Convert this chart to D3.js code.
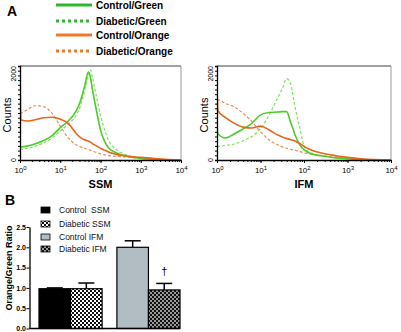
<!DOCTYPE html>
<html>
<head>
<meta charset="utf-8">
<script src="https://cdn.jsdelivr.net/npm/d3@7"></script>
<style>
  body { margin: 0; background: #fff; }
  svg { font-family: "Liberation Sans", Arial, sans-serif; display: block; }
</style>
</head>
<body>
<div id="chart"></div>
<script>
// fluorescence channel (log axis), shared by every histogram
const fluor = [1, 1.05, 1.58, 2.51, 3.98, 6.31, 10, 15.8, 25.1, 31.6, 39.8, 50.1, 56.2, 63.1, 79.4, 100, 126, 158, 251, 398, 631, 1000, 2000, 3980, 10000];

// counts - SSM panel
const ssmCtrlGreen = [290, 280, 300, 350, 420, 520, 690, 830, 1050, 1250, 1550, 1870, 1760, 1500, 1050, 640, 400, 260, 150, 90, 60, 35, 15, 5, 0];
const ssmDiabGreen = [240, 230, 250, 300, 370, 470, 620, 760, 960, 1150, 1450, 1800, 1920, 1750, 1350, 950, 650, 420, 220, 120, 70, 40, 15, 5, 0];
const ssmCtrlOrange = [2100, 850, 830, 860, 900, 910, 870, 780, 560, 480, 430, 400, 380, 350, 300, 250, 210, 170, 120, 90, 70, 55, 35, 15, 0];
const ssmDiabOrange = [1000, 1000, 1080, 1160, 1130, 990, 720, 470, 320, 280, 250, 220, 210, 195, 160, 130, 110, 95, 80, 65, 50, 30, 15, 5, 0];

// counts - IFM panel
const ifmCtrlGreen = [700, 560, 470, 560, 660, 780, 960, 1010, 1020, 1030, 1030, 780, 660, 520, 330, 220, 160, 120, 90, 60, 40, 25, 10, 3, 0];
const ifmDiabGreen = [290, 290, 310, 340, 410, 500, 670, 960, 1330, 1520, 1730, 1600, 1350, 1100, 700, 300, 180, 140, 100, 65, 45, 30, 10, 3, 0];
const ifmCtrlOrange = [1500, 1050, 900, 780, 700, 680, 720, 640, 530, 490, 460, 430, 420, 400, 350, 290, 240, 200, 150, 110, 80, 55, 25, 8, 0];
const ifmDiabOrange = [1280, 1280, 1200, 1130, 990, 820, 600, 430, 320, 280, 250, 225, 215, 205, 180, 155, 135, 115, 90, 70, 55, 40, 20, 5, 0];

const histLegend = ["Control/Green", "Diabetic/Green", "Control/Orange", "Diabetic/Orange"];
const xMajor = [1, 10, 100, 1000, 10000];
const yTicks = [0, 2000];

// panel B
const barGroups = ["SSM", "IFM"];
const barSeries = ["Control", "Diabetic"];
const barLabels = ["Control  SSM", "Diabetic SSM", "Control IFM", "Diabetic IFM"];
const barMean = [0.98, 0.98, 2.00, 0.95];
const barErr = [0.02, 0.14, 0.16, 0.16];
const ratioTicks = [0, 0.5, 1.0, 1.5, 2.0, 2.5];

const W = 401, H = 332;
const svg = d3.select("#chart").append("svg").attr("width", W).attr("height", H);

// patterns for the diabetic bars
const defs = svg.append("defs");
function checker(id, light) {
  const p = defs.append("pattern").attr("id", id).attr("patternUnits", "userSpaceOnUse")
    .attr("width", 4).attr("height", 4);
  p.append("rect").attr("width", 4).attr("height", 4).attr("fill", light);
  p.append("rect").attr("width", 2).attr("height", 2).attr("fill", "#111");
  p.append("rect").attr("x", 2).attr("y", 2).attr("width", 2).attr("height", 2).attr("fill", "#111");
}
checker("chkWhite", "#fff");
checker("chkGray", "#9a9a9a");

const colGreen = "#4ccd2a", colGreenD = "#7fe05c", colOrange = "#e9651c", colOrangeD = "#f08c52";

// ---------- panel labels ----------
svg.append("text").attr("x", 7).attr("y", 16).attr("font-size", 14).attr("font-weight", "bold").text("A");
svg.append("text").attr("x", 5).attr("y", 205).attr("font-size", 14).attr("font-weight", "bold").text("B");

// ---------- top legend ----------
const legStyle = [
  { c: "#2eb82e", dash: null },
  { c: "#2eb82e", dash: "3,3" },
  { c: "#f07a2a", dash: null },
  { c: "#f07a2a", dash: "3,3" }
];
const legY = [5, 21, 35, 51];
histLegend.forEach((name, i) => {
  svg.append("line").attr("x1", 56).attr("x2", 92).attr("y1", legY[i]).attr("y2", legY[i])
    .attr("stroke", legStyle[i].c).attr("stroke-width", 3)
    .attr("stroke-dasharray", legStyle[i].dash);
  svg.append("text").attr("x", 96).attr("y", legY[i] + 3.5).attr("font-size", 10)
    .attr("font-weight", "bold").text(name);
});

// ---------- histograms ----------
function histogram(x0, x1, title, curves, clipId) {
  const y0 = 66, y1 = 160;
  const x = d3.scaleLog().domain([1, 10000]).range([x0, x1]);
  const y = d3.scaleLinear().domain([0, 2000]).range([y1, y0]);

  defs.append("clipPath").attr("id", clipId).append("rect")
    .attr("x", x0).attr("y", y0).attr("width", x1 - x0).attr("height", y1 - y0);

  // frame top and right
  svg.append("line").attr("x1", x0).attr("x2", x1).attr("y1", y0).attr("y2", y0).attr("stroke", "#444").attr("stroke-width", 1.2);
  svg.append("line").attr("x1", x1).attr("x2", x1).attr("y1", y0).attr("y2", y1).attr("stroke", "#999");

  const line = d3.line().x((d, i) => x(fluor[i])).y(d => y(d)).curve(d3.curveMonotoneX);
  const g = svg.append("g").attr("clip-path", `url(#${clipId})`);
  curves.forEach(c => {
    g.append("path").datum(c.v).attr("d", line).attr("fill", "none")
      .attr("stroke", c.c).attr("stroke-width", c.dash ? 1.2 : 1.6)
      .attr("stroke-dasharray", c.dash);
  });

  // x axis
  const minor = svg.append("g").attr("transform", `translate(0,${y1})`)
    .call(d3.axisBottom(x).tickValues(x.ticks()).tickFormat("").tickSize(2));
  minor.select(".domain").remove();
  const ax = svg.append("g").attr("transform", `translate(0,${y1})`)
    .call(d3.axisBottom(x).tickValues(xMajor).tickSize(3).tickSizeOuter(0));
  ax.select(".domain").attr("stroke-width", 1.3);
  ax.selectAll(".tick text").each(function(d) {
    const t = d3.select(this);
    t.text("10").attr("font-size", 8).attr("y", 7).attr("font-family", "Liberation Sans, Arial");
    t.append("tspan").attr("dy", "-0.45em").attr("font-size", 6).text(Math.round(Math.log10(d)));
  });

  // y axis
  const yMinor = svg.append("g").attr("transform", `translate(${x0},0)`)
    .call(d3.axisLeft(y).tickValues(d3.range(0, 2001, 100)).tickFormat("").tickSize(2));
  yMinor.select(".domain").attr("stroke-width", 1.3);
  yTicks.forEach(v => {
    svg.append("text")
      .attr("transform", `translate(${x0 - 4},${y(v)}) rotate(-90)`)
      .attr("text-anchor", v === 0 ? "middle" : "end")
      .attr("font-size", 7).text(v);
  });

  svg.append("text").attr("transform", `translate(${x0 - 9},${(y0 + y1) / 2 + 2}) rotate(-90)`)
    .attr("text-anchor", "middle").attr("font-size", 11).text("Counts");

  svg.append("text").attr("x", (x0 + x1) / 2).attr("y", 188).attr("text-anchor", "middle")
    .attr("font-size", 11).attr("font-weight", "bold").text(title);
}

histogram(20, 181, "SSM", [
  { v: ssmDiabGreen, c: colGreenD, dash: "3,2" },
  { v: ssmDiabOrange, c: colOrangeD, dash: "3,2" },
  { v: ssmCtrlGreen, c: colGreen, dash: null },
  { v: ssmCtrlOrange, c: colOrange, dash: null }
], "clipSSM");

histogram(217, 391, "IFM", [
  { v: ifmDiabGreen, c: colGreenD, dash: "3,2" },
  { v: ifmDiabOrange, c: colOrangeD, dash: "3,2" },
  { v: ifmCtrlGreen, c: colGreen, dash: null },
  { v: ifmCtrlOrange, c: colOrange, dash: null }
], "clipIFM");

// ---------- bar chart ----------
const by = d3.scaleLinear().domain([0, 2.5]).range([328.5, 227]);
const bx = d3.scaleBand().domain(barGroups).range([39, 180]).paddingInner(0.19);
const bsub = d3.scaleBand().domain(barSeries).range([0, bx.bandwidth()]);
const fills = ["#000", "url(#chkWhite)", "#b1bcc3", "url(#chkGray)"];

const bars = barLabels.map((lab, i) => ({
  lab, group: barGroups[Math.floor(i / 2)], series: barSeries[i % 2],
  mean: barMean[i], err: barErr[i], fill: fills[i]
}));

// error bars (upper only)
bars.forEach(d => {
  const cx = bx(d.group) + bsub(d.series) + bsub.bandwidth() / 2;
  svg.append("line").attr("x1", cx).attr("x2", cx).attr("y1", by(d.mean)).attr("y2", by(d.mean + d.err))
    .attr("stroke", "#000").attr("stroke-width", 1.5);
  svg.append("line").attr("x1", cx - 8).attr("x2", cx + 8).attr("y1", by(d.mean + d.err)).attr("y2", by(d.mean + d.err))
    .attr("stroke", "#000").attr("stroke-width", 1.5);
});

svg.selectAll(".bar").data(bars).enter().append("rect")
  .attr("class", "bar")
  .attr("x", d => bx(d.group) + bsub(d.series))
  .attr("y", d => by(d.mean))
  .attr("width", bsub.bandwidth())
  .attr("height", d => by(0) - by(d.mean))
  .attr("fill", d => d.fill)
  .attr("stroke", "#000").attr("stroke-width", 1.2);

// dagger over diabetic IFM
const dag = bars[3];
svg.append("text")
  .attr("x", bx(dag.group) + bsub(dag.series) + bsub.bandwidth() / 2)
  .attr("y", by(dag.mean + dag.err) - 8)
  .attr("text-anchor", "middle").attr("font-size", 11).text("\u2020");

const yAx = svg.append("g").attr("transform", "translate(29.5,0)")
  .call(d3.axisLeft(by).tickValues(ratioTicks).tickFormat(d3.format(".1f")).tickSize(3).tickSizeOuter(0));
yAx.select(".domain").attr("stroke-width", 1.3);
yAx.selectAll(".tick text").attr("font-size", 7).attr("font-weight", "bold")
  .attr("font-family", "Liberation Sans, Arial").attr("x", -3.5);

svg.append("line").attr("x1", 29.5).attr("x2", 180).attr("y1", by(0)).attr("y2", by(0))
  .attr("stroke", "#000").attr("stroke-width", 1.3);

svg.append("text").attr("transform", `translate(12,268) rotate(-90)`)
  .attr("text-anchor", "middle").attr("font-size", 9).attr("font-weight", "bold").text("Orange/Green Ratio");

// legend B
const bLegY = [210, 224, 237, 249];
bars.forEach((d, i) => {
  svg.append("rect").attr("x", 41).attr("y", bLegY[i] - 3).attr("width", 9).attr("height", 6)
    .attr("fill", d.fill).attr("stroke", "#000").attr("stroke-width", 0.8);
  svg.append("text").attr("x", 59).attr("y", bLegY[i] + 3).attr("font-size", 8.5).attr("fill", "#111")
    .text(d.lab).style("white-space", "pre");
});
</script>
</body>
</html>
